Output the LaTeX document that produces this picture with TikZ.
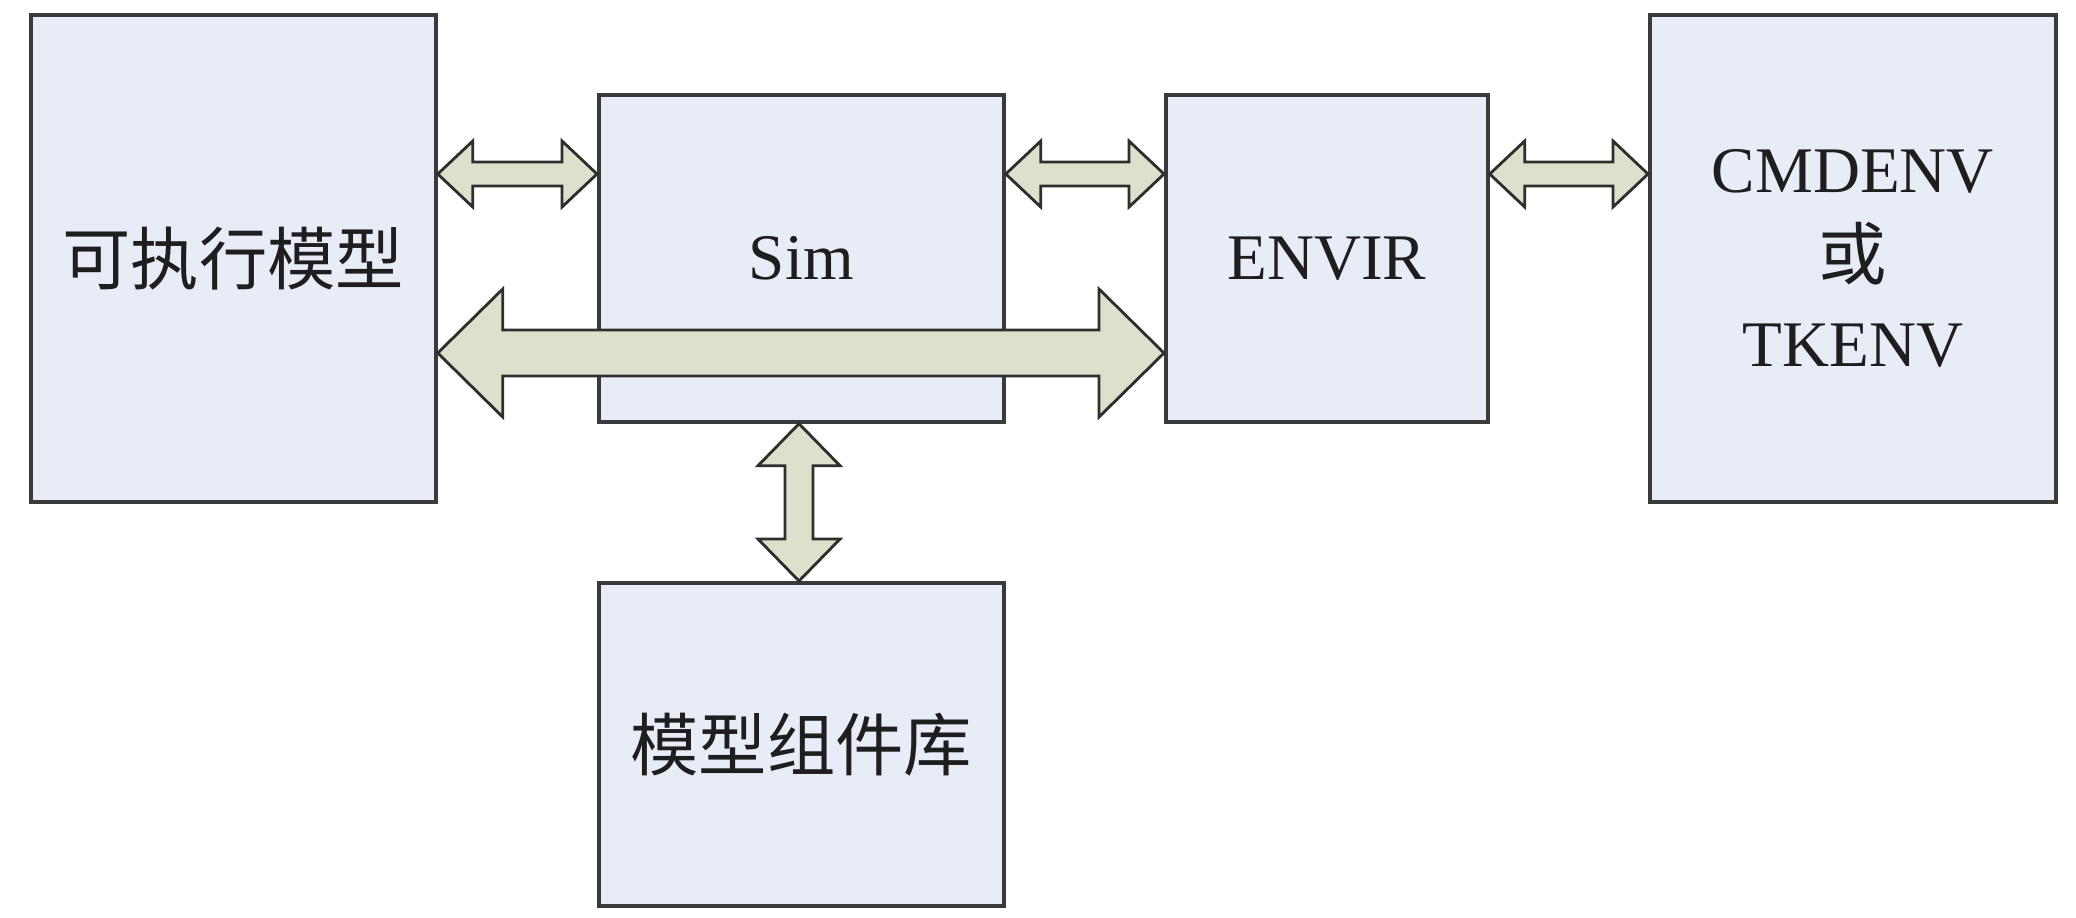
\documentclass[tikz,border=0pt]{standalone}
\usepackage{fontspec}
\setmainfont{Liberation Serif}
\newfontfamily\cjk[Scale=1.05]{Noto Sans CJK SC}
\usetikzlibrary{calc}
\definecolor{boxfill}{HTML}{E8ECF7}
\definecolor{boxline}{HTML}{3A3A3A}
\definecolor{arrfill}{HTML}{DDE1CB}
\definecolor{arrline}{HTML}{2E2E2E}
\definecolor{txt}{HTML}{1E1E1E}
\tikzset{
  blockbox/.style={draw=boxline, fill=boxfill, line width=1pt, rectangle, anchor=north west,
    inner sep=0pt, text=txt, font=\fontsize{18.5}{24.7}\selectfont, align=center},
  fatarrow/.style={draw=arrline, fill=arrfill, line width=0.8pt, line join=miter}
}
% horizontal fat double arrow: #1 start, #2 end, #3 head length, #4 head half height, #5 shaft half height
\newcommand\hfat[5]{%
  \draw[fatarrow] (#1) -- ($(#1)+(#3,-#4)$) -- ($(#1)+(#3,-#5)$) -- ($(#2)+(-#3,-#5)$) -- ($(#2)+(-#3,-#4)$) -- (#2)
   -- ($(#2)+(-#3,#4)$) -- ($(#2)+(-#3,#5)$) -- ($(#1)+(#3,#5)$) -- ($(#1)+(#3,#4)$) -- cycle;}
% vertical fat double arrow
\newcommand\vfat[5]{%
  \draw[fatarrow] (#1) -- ($(#1)+(-#4,#3)$) -- ($(#1)+(-#5,#3)$) -- ($(#2)+(-#5,-#3)$) -- ($(#2)+(-#4,-#3)$) -- (#2)
   -- ($(#2)+(#4,-#3)$) -- ($(#2)+(#5,-#3)$) -- ($(#1)+(#5,#3)$) -- ($(#1)+(#4,#3)$) -- cycle;}
\begin{document}
\begin{tikzpicture}[x=0.01cm,y=-0.01cm]
\useasboundingbox[fill=white] (0,0) rectangle (2076,917);
\node[blockbox, minimum width=4.05cm, minimum height=4.87cm] (exe) at (29,13) {{\cjk 可执行模型}};
\node[blockbox, minimum width=4.05cm, minimum height=3.27cm] (sim) at (597,93) {Sim};
\node[blockbox, minimum width=3.22cm, minimum height=3.27cm] (envir) at (1164,93) {ENVIR};
\node[blockbox, minimum width=4.06cm, minimum height=4.87cm] (cmd) at (1648,13) {CMDENV\\{\cjk 或}\\TKENV};
\node[blockbox, minimum width=4.05cm, minimum height=3.23cm] (lib) at (597,581) {{\cjk 模型组件库}};
\coordinate (rowa) at (0,174);
\coordinate (rowb) at (0,353);
\coordinate (cola) at (799,0);
\coordinate (a1s) at (exe.east |- rowa);
\coordinate (a1e) at (sim.west |- rowa);
\coordinate (a2s) at (sim.east |- rowa);
\coordinate (a2e) at (envir.west |- rowa);
\coordinate (a3s) at (envir.east |- rowa);
\coordinate (a3e) at (cmd.west |- rowa);
\coordinate (bs) at (exe.east |- rowb);
\coordinate (be) at (envir.west |- rowb);
\coordinate (vs) at (cola |- sim.south);
\coordinate (ve) at (cola |- lib.north);
\hfat{a1s}{a1e}{35}{33}{12}
\hfat{a2s}{a2e}{35}{33}{12}
\hfat{a3s}{a3e}{35}{33}{12}
\hfat{bs}{be}{65}{64}{23}
\vfat{vs}{ve}{42}{41}{14}
\end{tikzpicture}
\end{document}
